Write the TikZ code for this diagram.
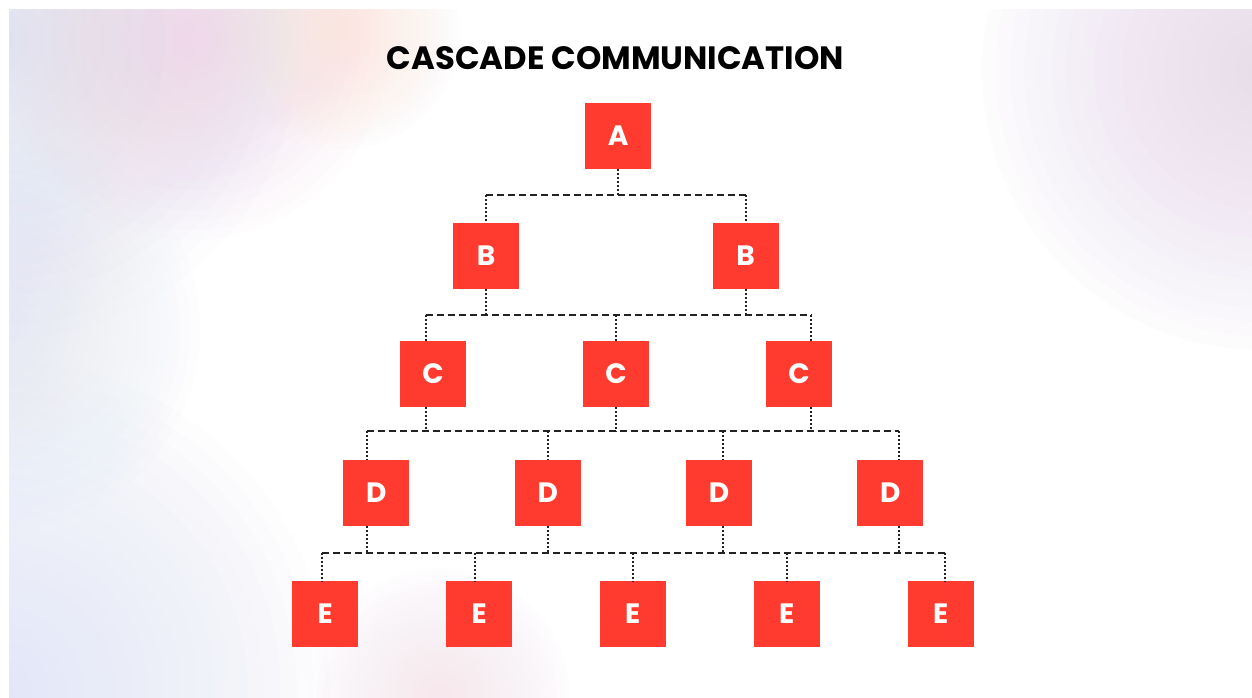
\documentclass[tikz,border=0pt]{standalone}
\usepackage{fontspec}
\setmainfont{Poppins}
\definecolor{boxred}{HTML}{FF3B30}
\definecolor{linegray}{HTML}{222222}
\definecolor{bblue0}{HTML}{D9E1F3}
\definecolor{bpink}{HTML}{EED5EA}
\definecolor{bpeach}{HTML}{FCE6DC}
\definecolor{blav}{HTML}{E4D4EA}
\definecolor{bblue}{HTML}{DCE3F8}
\definecolor{bmid}{HTML}{E3E7F4}
\definecolor{bpk2}{HTML}{F7E4EE}
\newcommand\softspot[4]{%
  \foreach \k in {1,...,20}{\fill[#1, fill opacity=0.05] (#2,#3) circle ({#4*\k/20});}}
\tikzset{
  box/.style={rectangle, fill=boxred, minimum width=66, minimum height=66, inner sep=0pt, text=white, font=\fontsize{28}{28}\selectfont\bfseries},
  hline/.style={draw=linegray, line width=2.2pt, dash pattern=on 7pt off 4pt},
  vline/.style={draw=linegray, line width=2.2pt, dash pattern=on 2pt off 2pt}
}
\begin{document}
\begin{tikzpicture}[x=1pt,y=-1pt]
\useasboundingbox (0,0) rectangle (1252,698);
\fill[white] (0,0) rectangle (1252,698);
\begin{scope}
\clip (9,10) rectangle (1252,698);
\softspot{bblue0}{0}{40}{300}
\softspot{bmid}{0}{330}{200}
\softspot{bblue}{0}{690}{330}
\softspot{bpink}{190}{40}{200}
\softspot{bpeach}{340}{30}{120}
\softspot{blav}{1262}{70}{280}
\softspot{bpk2}{440}{698}{130}
\end{scope}

\node[font=\fontsize{32.3}{32}\selectfont\bfseries] (title) at (615.5,58.5) {CASCADE COMMUNICATION};

\node[box] (A) at (618.3,136) {A};
\node[box] (B1) at (486,256) {B};
\node[box] (B2) at (745.7,256) {B};
\node[box] (C1) at (433,374) {C};
\node[box] (C2) at (616,374) {C};
\node[box] (C3) at (799,374) {C};
\node[box] (D1) at (376.3,492.7) {D};
\node[box] (D2) at (547.7,492.7) {D};
\node[box] (D3) at (719,492.7) {D};
\node[box] (D4) at (890.3,492.7) {D};
\node[box] (E1) at (325.3,614) {E};
\node[box] (E2) at (479.3,614) {E};
\node[box] (E3) at (632.8,614) {E};
\node[box] (E4) at (786.7,614) {E};
\node[box] (E5) at (940.7,614) {E};

% connector attachment points
\foreach \n/\o in {A/0,B1/0,B2/0,C1/-7.3,C2/0,C3/12,D1/-9.6,D2/0,D3/4,D4/8.4,E1/-3.6,E2/-4,E3/0.5,E4/0.6,E5/4.6}{
  \coordinate (\n t) at ([xshift=\o pt]\n.north);
  \coordinate (\n b) at ([xshift=\o pt]\n.south);
}
\coordinate (jA) at (0,195);
\coordinate (jB) at (0,315);
\coordinate (jC) at (0,431.3);
\coordinate (jD) at (0,552.7);

% A -> B
\draw[vline] (Ab) -- (Ab |- jA);
\draw[hline] (B1t |- jA) -- (B2t |- jA);
\foreach \n in {B1,B2} \draw[vline] (\n t |- jA) -- (\n t);
% B -> C
\foreach \n in {B1,B2} \draw[vline] (\n b) -- (\n b |- jB);
\draw[hline] (C1t |- jB) -- (C3t |- jB);
\foreach \n in {C1,C2,C3} \draw[vline] (\n t |- jB) -- (\n t);
% C -> D
\foreach \n in {C1,C2,C3} \draw[vline] (\n b) -- (\n b |- jC);
\draw[hline] (D1t |- jC) -- (D4t |- jC);
\foreach \n in {D1,D2,D3,D4} \draw[vline] (\n t |- jC) -- (\n t);
% D -> E
\foreach \n in {D1,D2,D3,D4} \draw[vline] (\n b) -- (\n b |- jD);
\draw[hline] (E1t |- jD) -- (E5t |- jD);
\foreach \n in {E1,E2,E3,E4,E5} \draw[vline] (\n t |- jD) -- (\n t);
\end{tikzpicture}
\end{document}
